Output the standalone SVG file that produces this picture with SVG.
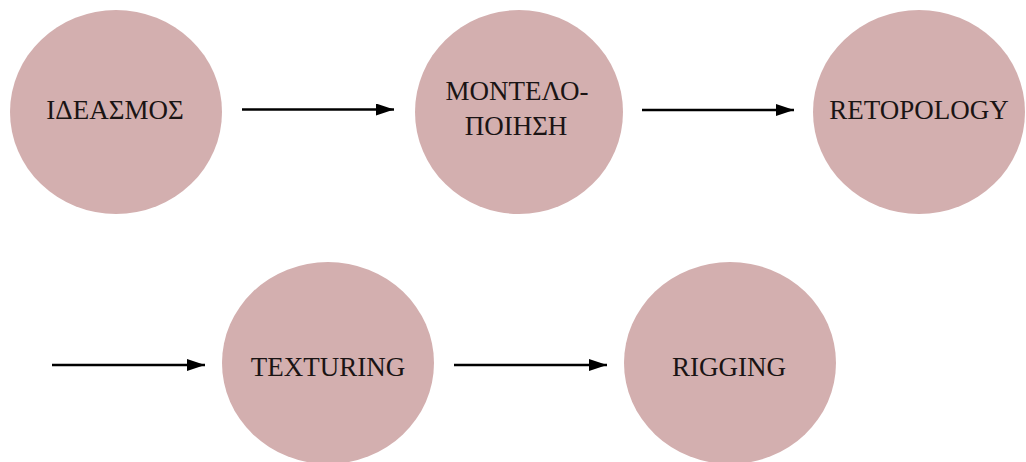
<svg xmlns="http://www.w3.org/2000/svg" width="1026" height="462" viewBox="0 0 1026 462">
<style>
.node ellipse{fill:#d3afaf;stroke:none}
.node text{font-family:"Liberation Serif","Times New Roman",serif;font-size:27px;fill:#1a1414;text-anchor:middle}
.conn line{stroke:#000;stroke-width:2.5;marker-end:url(#ah)}
</style>
<defs>
<marker id="ah" viewBox="0 0 18 12" refX="18" refY="6" markerWidth="18" markerHeight="12" markerUnits="userSpaceOnUse" orient="auto">
<path d="M0,0 L18,6 L0,12 Z" fill="#000"/>
</marker>
</defs>
<rect width="1026" height="462" fill="#fff"/>
<g class="conn" id="connectors">
<line x1="242" y1="109.5" x2="394" y2="109.5"/>
<line x1="642" y1="110" x2="794" y2="110"/>
<line x1="52" y1="365" x2="205" y2="365"/>
<line x1="454" y1="365" x2="607" y2="365"/>
</g>
<g class="node" id="n1"><ellipse cx="116" cy="112" rx="106" ry="102"/><text x="115" y="119">ΙΔΕΑΣΜΟΣ</text></g>
<g class="node" id="n2"><ellipse cx="519" cy="112" rx="104" ry="102"/><text x="517" y="100">ΜΟΝΤΕΛΟ-</text><text x="516" y="135">ΠΟΙΗΣΗ</text></g>
<g class="node" id="n3"><ellipse cx="919" cy="112" rx="106" ry="102"/><text x="919" y="119">RETOPOLOGY</text></g>
<g class="node" id="n4"><ellipse cx="328" cy="363" rx="106" ry="101"/><text x="328" y="376">TEXTURING</text></g>
<g class="node" id="n5"><ellipse cx="730" cy="363" rx="106" ry="101"/><text x="729" y="376">RIGGING</text></g>
</svg>
